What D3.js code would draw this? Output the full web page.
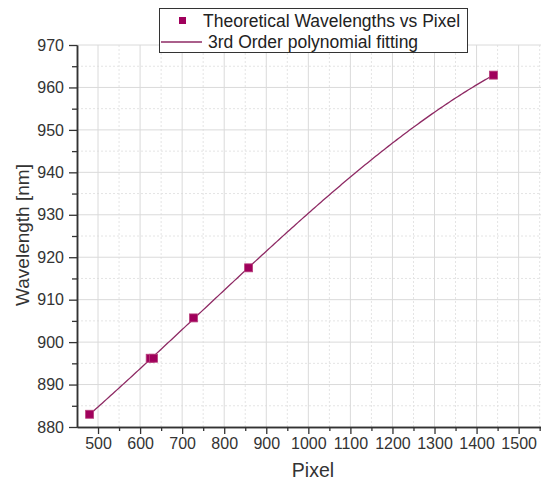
<!DOCTYPE html>
<html>
<head>
<meta charset="utf-8">
<script src="https://cdn.jsdelivr.net/npm/d3@7"></script>
<style>
  html, body { margin: 0; padding: 0; background: #fff; }
  svg { display: block; font-family: "Liberation Sans", Arial, sans-serif; }
</style>
</head>
<body>
<svg id="chart" width="541" height="483"></svg>
<script>
// Measured calibration lines: detector pixel vs theoretical wavelength
const pixels = [480, 624, 632, 727, 858, 1440];
const wavelengths = [883.0, 896.2, 896.2, 905.7, 917.5, 962.9];
const xTicks = [500, 600, 700, 800, 900, 1000, 1100, 1200, 1300, 1400, 1500];
const yTicks = [880, 890, 900, 910, 920, 930, 940, 950, 960, 970];
const legendLabels = ["Theoretical Wavelengths vs Pixel", "3rd Order polynomial fitting"];

const markColor = "#a0005c";
const lineColor = "#8e2a64";

// Least-squares cubic fit of wavelength against pixel
function polyFit(xs, ys, order) {
  const n = order + 1;
  const A = Array.from({length: n}, () => new Array(n + 1).fill(0));
  for (let k = 0; k < xs.length; k++) {
    const pw = [];
    for (let i = 0; i < 2 * n; i++) pw.push(Math.pow(xs[k], i));
    for (let r = 0; r < n; r++) {
      for (let c = 0; c < n; c++) A[r][c] += pw[r + c];
      A[r][n] += ys[k] * pw[r];
    }
  }
  for (let i = 0; i < n; i++) {
    let p = i;
    for (let r = i + 1; r < n; r++) if (Math.abs(A[r][i]) > Math.abs(A[p][i])) p = r;
    [A[i], A[p]] = [A[p], A[i]];
    for (let r = 0; r < n; r++) {
      if (r === i) continue;
      const f = A[r][i] / A[i][i];
      for (let c = i; c <= n; c++) A[r][c] -= f * A[i][c];
    }
  }
  return A.map((row, i) => row[n] / row[i]);
}
// center pixel values (scaled) for numerical stability
const x0 = 900, xs0 = 100;
const coef = polyFit(pixels.map(p => (p - x0) / xs0), wavelengths, 3);
const fitAt = p => coef.reduce((s, c, i) => s + c * Math.pow((p - x0) / xs0, i), 0);

const svg = d3.select("#chart");
const plotLeft = 77, plotBottom = 427, plotTop = 45;

const x = d3.scaleLinear().domain([450, 1600]).range([plotLeft, plotLeft + 1150 * 0.4206]);
const y = d3.scaleLinear().domain([880, 970]).range([plotBottom, plotTop]);

const minorX = d3.range(550, 1600, 100);
const minorY = d3.range(885, 970, 10);

// grid
const grid = svg.append("g");
grid.selectAll(".gxm").data(minorX).join("line")
  .attr("x1", d => x(d)).attr("x2", d => x(d)).attr("y1", plotBottom).attr("y2", plotTop)
  .attr("stroke", "#e4e4e4").attr("stroke-width", 1).attr("stroke-dasharray", "2,2");
grid.selectAll(".gym").data(minorY).join("line")
  .attr("x1", plotLeft).attr("x2", 541).attr("y1", d => y(d)).attr("y2", d => y(d))
  .attr("stroke", "#e4e4e4").attr("stroke-width", 1).attr("stroke-dasharray", "2,2");
grid.selectAll(".gx").data(xTicks).join("line")
  .attr("x1", d => x(d)).attr("x2", d => x(d)).attr("y1", plotBottom).attr("y2", plotTop)
  .attr("stroke", "#dadada").attr("stroke-width", 1);
grid.selectAll(".gy").data(yTicks.slice(1)).join("line")
  .attr("x1", plotLeft).attr("x2", 541).attr("y1", d => y(d)).attr("y2", d => y(d))
  .attr("stroke", "#dadada").attr("stroke-width", 1);

// axes
const fmt = d3.format("d");
const xAxis = svg.append("g").attr("transform", `translate(0,${plotBottom})`)
  .call(d3.axisBottom(x).tickValues(xTicks).tickFormat(fmt).tickSize(7).tickPadding(4).tickSizeOuter(0));
const xMinor = svg.append("g").attr("transform", `translate(0,${plotBottom})`)
  .call(d3.axisBottom(x).tickValues(minorX).tickSize(4).tickFormat("").tickSizeOuter(0));
const yAxis = svg.append("g").attr("transform", `translate(${plotLeft},0)`)
  .call(d3.axisLeft(y).tickValues(yTicks).tickFormat(fmt).tickSize(8).tickPadding(5).tickSizeOuter(0));
const yMinor = svg.append("g").attr("transform", `translate(${plotLeft},0)`)
  .call(d3.axisLeft(y).tickValues(minorY).tickSize(5).tickFormat("").tickSizeOuter(0));

[xAxis, xMinor, yAxis, yMinor].forEach(g => {
  g.select(".domain").attr("stroke", "#333").attr("stroke-width", 1.5);
  g.selectAll(".tick line").attr("stroke", "#333").attr("stroke-width", 1.3);
  g.selectAll("text").attr("font-size", 16).attr("fill", "#333")
    .attr("font-family", "'Liberation Sans', Arial, sans-serif");
});

// axis titles
svg.append("text").attr("x", 313).attr("y", 477).attr("text-anchor", "middle")
  .attr("font-size", 19.5).attr("fill", "#333").text("Pixel");
svg.append("text").attr("transform", "translate(29,235) rotate(-90)").attr("text-anchor", "middle")
  .attr("font-size", 19).attr("fill", "#333").text("Wavelength [nm]");

// fitted curve, sampled across the measured pixel range
const pMin = d3.min(pixels), pMax = d3.max(pixels);
const curvePts = d3.range(pMin, pMax + 1, 5).map(p => [p, fitAt(p)]);
svg.append("path").datum(curvePts)
  .attr("d", d3.line().x(d => x(d[0])).y(d => y(d[1])))
  .attr("fill", "none").attr("stroke", lineColor).attr("stroke-width", 1.3);

// measured points
const ms = 8;
svg.selectAll(".pt").data(pixels.map((p, i) => [p, wavelengths[i]])).join("rect")
  .attr("x", d => x(d[0]) - ms / 2).attr("y", d => y(d[1]) - ms / 2)
  .attr("width", ms).attr("height", ms)
  .attr("fill", markColor).attr("stroke", "#b8407c").attr("stroke-width", 0.8);

// legend
const lg = svg.append("g");
lg.append("rect").attr("x", 159.5).attr("y", 8.5).attr("width", 308).attr("height", 44)
  .attr("fill", "#fff").attr("stroke", "#333").attr("stroke-width", 1);
lg.append("rect").attr("x", 179).attr("y", 17).attr("width", 7).attr("height", 7)
  .attr("fill", markColor);
lg.append("line").attr("x1", 161).attr("x2", 202).attr("y1", 42).attr("y2", 42)
  .attr("stroke", lineColor).attr("stroke-width", 1.3);
lg.selectAll(".lt").data(legendLabels).join("text")
  .attr("x", (d, i) => i === 0 ? 203 : 208).attr("y", (d, i) => i === 0 ? 27 : 48)
  .attr("font-size", 17.5).attr("fill", "#222").text(d => d);
</script>
</body>
</html>
